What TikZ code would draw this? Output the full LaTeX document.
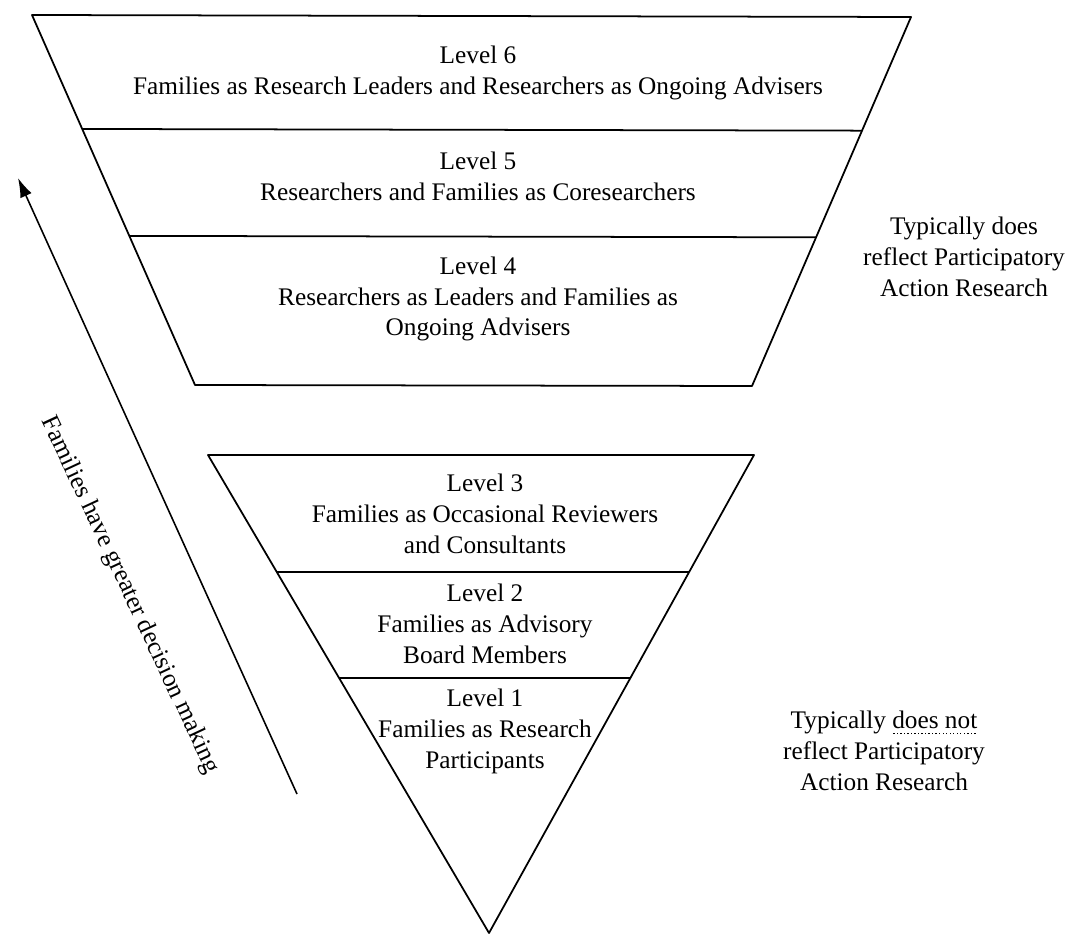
\documentclass[tikz,border=0pt]{standalone}
\usepackage{fontspec}
\setmainfont{Liberation Serif}
\usetikzlibrary{arrows.meta,calc}
\newcommand{\dotunder}[1]{\leavevmode\setbox0\hbox{#1}\rlap{\raisebox{-3pt}{\hbox to\wd0{\leaders\hbox to 2pt{\hss\rule{0.8pt}{0.8pt}\hss}\hfill}}}\box0}

\begin{document}
\begin{tikzpicture}[x=0.02cm,y=-0.02cm]
            \tikzstyle{band} = [draw, line width=1pt, line join=round]
            \tikzstyle{level} = [align=center, font=\fontsize{14.4}{17.6}\selectfont]
            \useasboundingbox (0,0) rectangle (1070,935);

            \coordinate (upperTL) at (32,15);
            \coordinate (upperTR) at (911,17);
            \coordinate (upperBR) at (752,386);
            \coordinate (upperBL) at (195,385);
            \coordinate (lowerTL) at (208,455);
            \coordinate (lowerTR) at (754,455);
            \coordinate (apex) at (489,933);

            \draw [band] (upperTL) -- (upperTR) -- (upperBR) -- (upperBL) -- cycle;
            \draw [band] ($(upperTL)!0.308!(upperBL)$) -- ($(upperTR)!0.308!(upperBR)$);
            \draw [band] ($(upperTL)!0.597!(upperBL)$) -- ($(upperTR)!0.597!(upperBR)$);
            \draw [band] (lowerTL) -- (lowerTR) -- (apex) -- cycle;
            \draw [band] ($(lowerTL)!0.245!(apex)$) -- ($(lowerTR)!0.245!(apex)$);
            \draw [band] ($(lowerTL)!0.467!(apex)$) -- ($(lowerTR)!0.467!(apex)$);

            \node [level] (level6) at (478,73) {Level 6\\Families as Research Leaders and Researchers as Ongoing Advisers};
            \node [level] (level5) at (478,176) {Level 5\\Researchers and Families as Coresearchers};
            \node [level] (level4) at (478,299) {Level 4\\Researchers as Leaders and Families as\\Ongoing Advisers};
            \node [level] (level3) at (485,514) {Level 3\\Families as Occasional Reviewers\\and Consultants};
            \node [level] (level2) at (485,624) {Level 2\\Families as Advisory\\Board Members};
            \node [level] (level1) at (485,731) {Level 1\\Families as Research\\Participants};

            \node [level] (doesPAR) at (964,257) {Typically does\\reflect Participatory\\Action Research};
            \node [level] (notPAR) at (884,751) {Typically \dotunder{does not}\\reflect Participatory\\Action Research};

            \coordinate (arrowTail) at (297,794);
            \coordinate (arrowTip) at (18,178);
            \draw [-{Latex[length=11pt,width=7pt]}, line width=0.9pt] (arrowTail) -- (arrowTip);
            \node [level, rotate=-65] (decision) at (130,595) {Families have greater decision making};
\end{tikzpicture}
\end{document}
